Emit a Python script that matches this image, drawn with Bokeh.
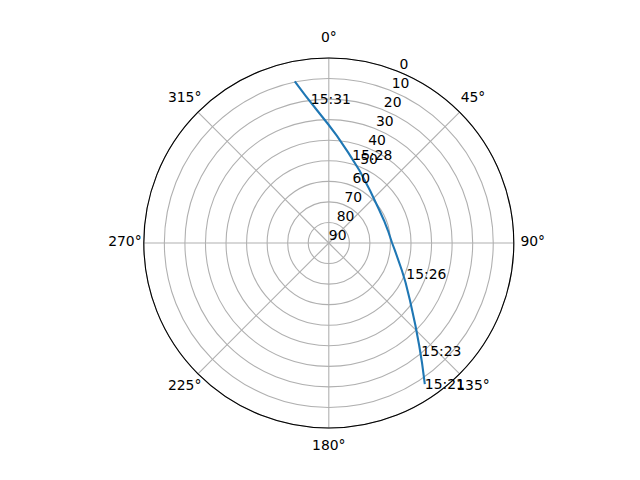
import numpy as np
from bokeh.plotting import figure
from bokeh.models import Range1d
from bokeh.embed import file_html
from bokeh.resources import INLINE
from bokeh.core.properties import value

# Satellite track (azimuth in degrees clockwise from north, elevation in degrees), in time order
track_az = [145.75, 142.05, 138.6, 133.6, 125.3, 117.25, 110.6, 96.5, 90.0, 78.1,
            67.8, 57.3, 38.1, 22.95, 12.15, 4.25, 359.8, 355.0, 351.0, 348.1]
track_el = [7.0, 16.3, 23.5, 31.8, 41.6, 48.0, 52.0, 57.6, 59.2, 60.6,
            61.0, 60.7, 57.5, 51.7, 45.0, 37.6, 32.35, 25.3, 17.4, 9.7]

# Time annotations
label_times = ["15:21", "15:23", "15:26", "15:28", "15:31"]
label_az = [145.75, 139.3, 111.7, 14.9, 352.9]
label_el = [7.0, 21.0, 49.4, 45.5, 19.3]

# Axis ticks
el_ticks = [0, 10, 20, 30, 40, 50, 60, 70, 80, 90]
theta_ticks = [0, 45, 90, 135, 180, 225, 270, 315]
theta_labels = ["0°", "45°", "90°", "135°", "180°", "225°", "270°", "315°"]

R_MAX = 90.0
RLABEL_ANGLE = 22.5
THETA_LABEL_R = 99.2


def to_xy(az, el):
    r = R_MAX - np.asarray(el, dtype=float)
    a = np.radians(np.asarray(az, dtype=float))
    return r * np.sin(a), r * np.cos(a)


W, H = 624, 464
cx, cy = 328.3, 242.5
s = 185.0 / R_MAX

p = figure(width=W, height=H, output_backend="svg", toolbar_location=None,
           x_axis_type=None, y_axis_type=None,
           x_range=Range1d(-cx / s, (W - cx) / s),
           y_range=Range1d(-(H - cy) / s, cy / s),
           min_border=0, min_border_left=0, min_border_right=0,
           min_border_top=0, min_border_bottom=0)
p.outline_line_color = None
p.background_fill_color = "white"
p.border_fill_color = "white"

grid_col = "#b0b0b0"

# radial grid circles
ring_r = [R_MAX - e for e in el_ticks if e < 90]
p.circle(x=[0] * len(ring_r), y=[0] * len(ring_r), radius=ring_r,
         fill_alpha=0, line_color=grid_col, line_width=1.1)

# spokes
ang = np.radians(theta_ticks)
p.segment(x0=[0] * len(ang), y0=[0] * len(ang),
          x1=list(R_MAX * np.sin(ang)), y1=list(R_MAX * np.cos(ang)),
          line_color=grid_col, line_width=1.1)

# outer spine
p.circle(x=[0], y=[0], radius=[R_MAX], fill_alpha=0,
         line_color="black", line_width=1.1)

# track
tx, ty = to_xy(track_az, track_el)
p.line(x=list(tx), y=list(ty), line_color="#1f77b4", line_width=2.1,
       line_join="round")

font = value("DejaVu Sans")
fs = "13.9px"

# radial labels
rx, ry = to_xy([RLABEL_ANGLE] * len(el_ticks), el_ticks)
p.text(x=list(rx), y=list(ry), text=[str(e) for e in el_ticks],
       text_font=font, text_font_size=fs, text_color="black",
       text_align="left", text_baseline="bottom", x_offset=0, y_offset=-3)

# angle labels
ax_ = list(THETA_LABEL_R * np.sin(ang))
ay_ = list(THETA_LABEL_R * np.cos(ang))
p.text(x=ax_, y=ay_, text=theta_labels, text_font=font, text_font_size=fs,
       text_color="black", text_align="center", text_baseline="middle",
       y_offset=-2)

# time labels
lx, ly = to_xy(label_az, label_el)
p.text(x=list(lx), y=list(ly), text=label_times, text_font=font,
       text_font_size=fs, text_color="black", text_align="left",
       text_baseline="alphabetic")

open("out.html", "w").write(file_html(p, INLINE))
